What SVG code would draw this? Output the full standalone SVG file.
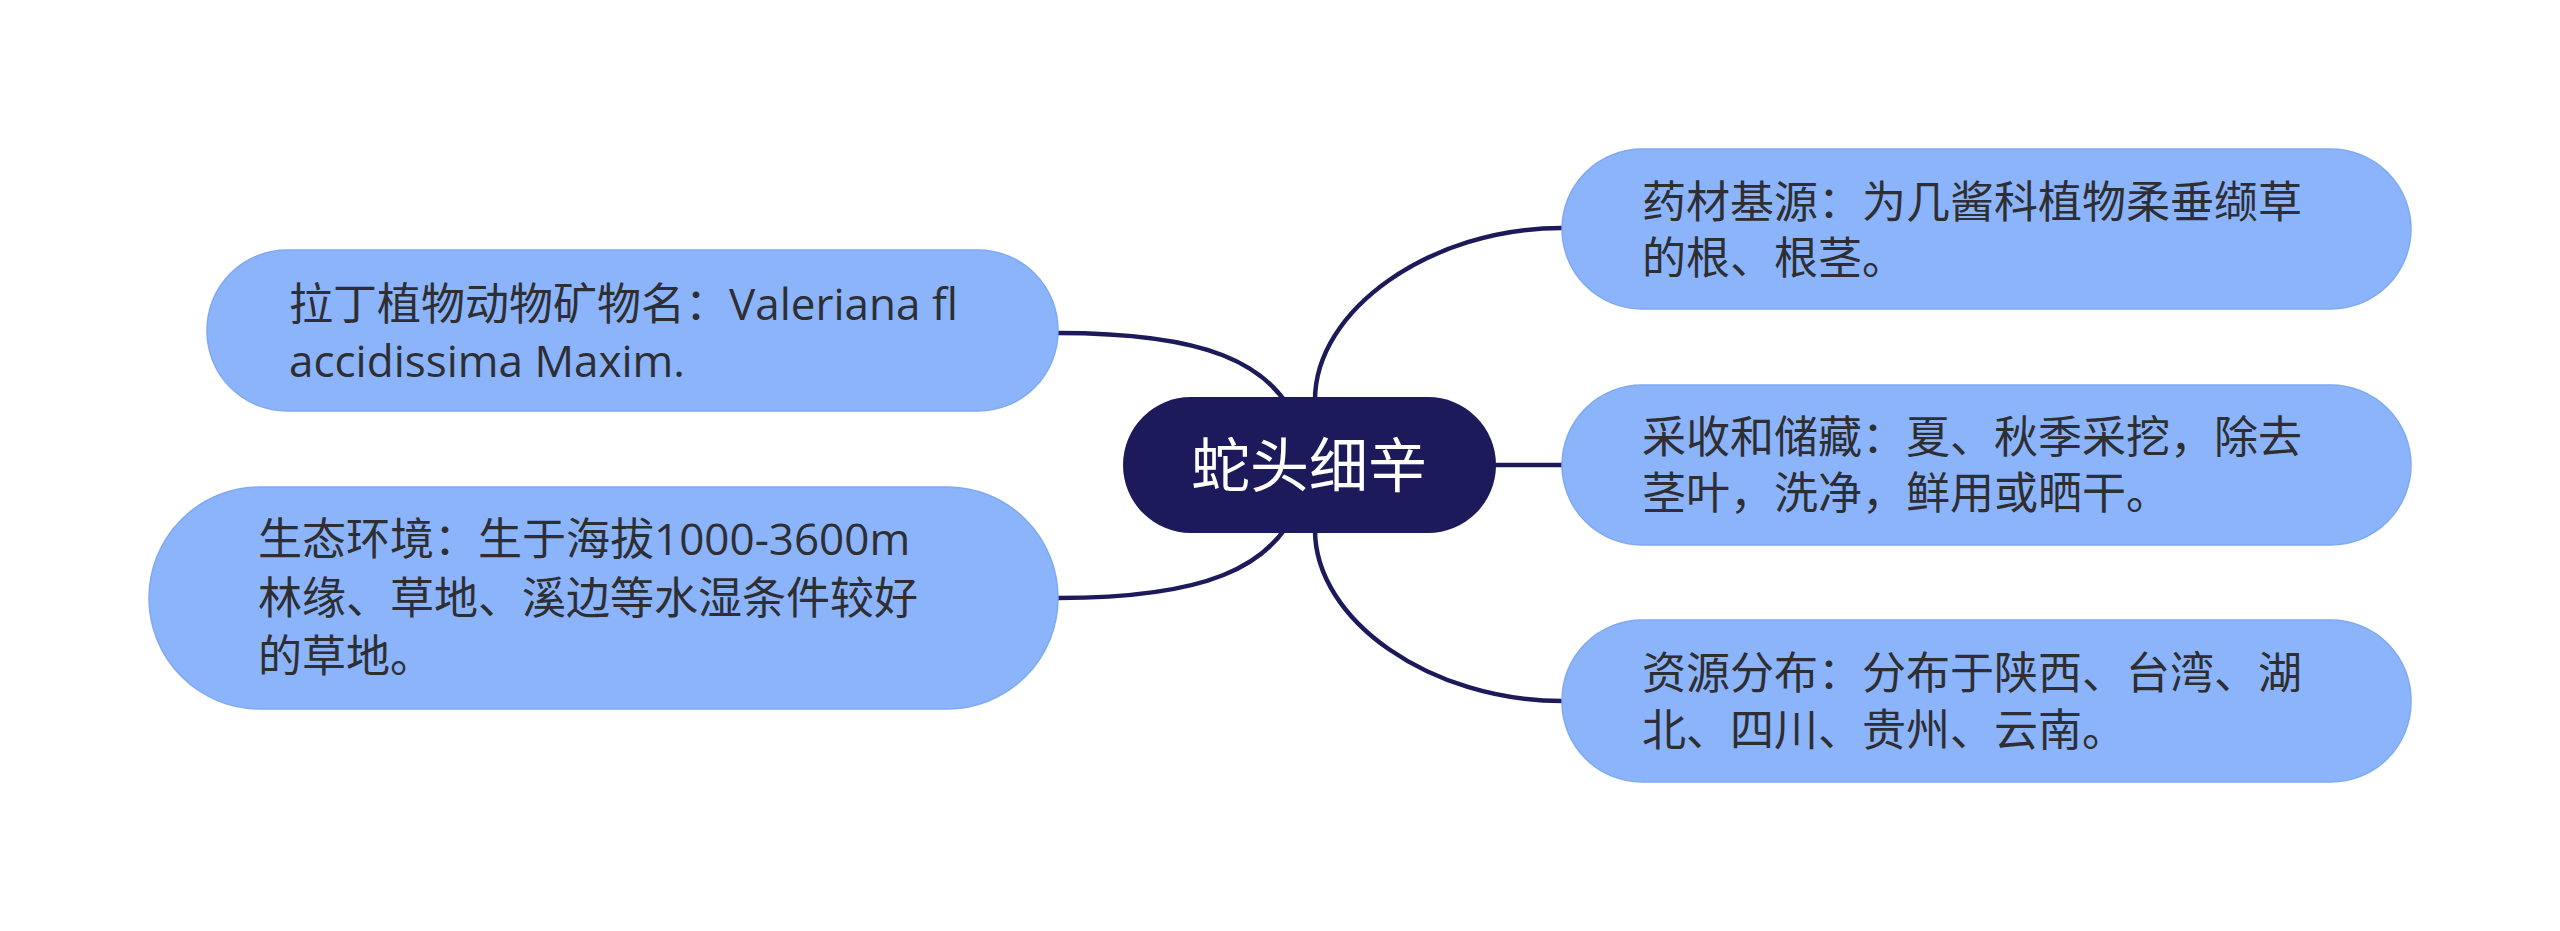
<svg xmlns="http://www.w3.org/2000/svg" width="2560" height="931" viewBox="0 0 2560 931">
<style>
.bg{fill:#ffffff}
.conn path{fill:none;stroke:#1c1a5a;stroke-width:4.5}
.sub rect{fill:#8bb4fa;stroke:#7fa9f2;stroke-width:1.5}
.sub text{font-family:"Open Sans","Noto Sans CJK SC",sans-serif;font-size:44px;fill:#2e2e33}
.root rect{fill:#1c1a5b}
.root text{font-family:"Noto Sans CJK SC",sans-serif;font-size:59px;fill:#ffffff}
</style>
<rect class="bg" x="0" y="0" width="2560" height="931"/>
<g id="connectors" class="conn">
<path d="M1315,400 C1315,310 1430,228 1562,228"/>
<path d="M1490,465 L1562,465"/>
<path d="M1315,530 C1315,620 1430,701 1562,701"/>
<path d="M1300,430 C1275,360 1200,333 1058,333"/>
<path d="M1300,500 C1275,570 1200,598 1058,598"/>
</g>
<g id="root" class="root">
<rect x="1123" y="397" width="373" height="136" rx="68"/>
<text x="1309" y="487" text-anchor="middle">蛇头细辛</text>
</g>
<g id="node-r1" class="sub">
<rect x="1562" y="149" width="849" height="160" rx="80"/>
<text x="1642" y="218">药材基源：为几酱科植物柔垂缬草</text>
<text x="1642" y="274">的根、根茎。</text>
</g>
<g id="node-r2" class="sub">
<rect x="1562" y="385" width="849" height="160" rx="80"/>
<text x="1642" y="453">采收和储藏：夏、秋季采挖，除去</text>
<text x="1642" y="509">茎叶，洗净，鲜用或晒干。</text>
</g>
<g id="node-r3" class="sub">
<rect x="1562" y="620" width="849" height="162" rx="80"/>
<text x="1642" y="689">资源分布：分布于陕西、台湾、湖</text>
<text x="1642" y="746">北、四川、贵州、云南。</text>
</g>
<g id="node-l1" class="sub">
<rect x="207" y="250" width="851" height="161" rx="80"/>
<text x="289" y="320">拉丁植物动物矿物名：Valeriana fl</text>
<text x="289" y="377">accidissima Maxim.</text>
</g>
<g id="node-l2" class="sub">
<rect x="149" y="487" width="909" height="222" rx="111"/>
<text x="258" y="555">生态环境：生于海拔1000-3600m</text>
<text x="258" y="614">林缘、草地、溪边等水湿条件较好</text>
<text x="258" y="672">的草地。</text>
</g>
</svg>
